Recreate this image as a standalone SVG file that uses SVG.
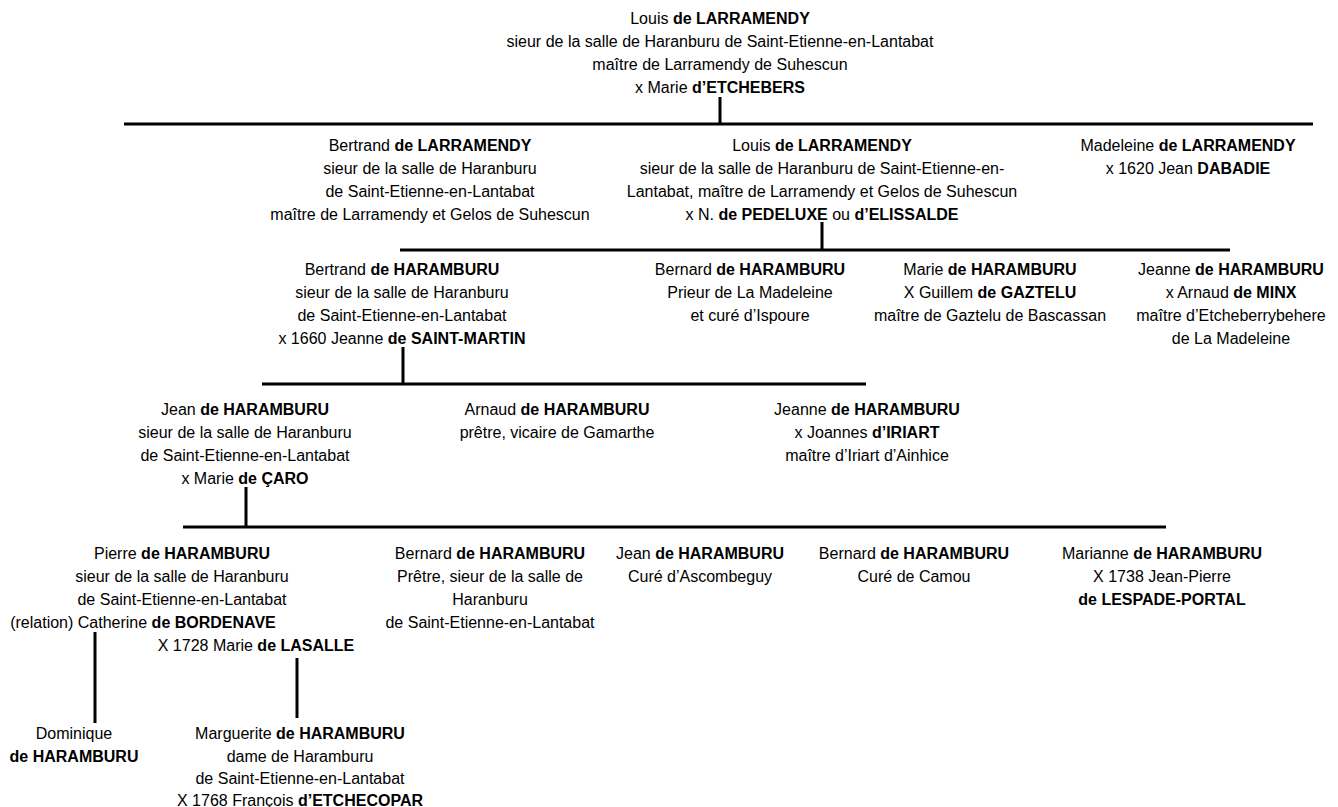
<svg xmlns="http://www.w3.org/2000/svg" width="1338" height="807" viewBox="0 0 1338 807">
<style>
text{font-family:"Liberation Sans",Arial,sans-serif;font-size:16px;fill:#000;text-anchor:middle}
.b{font-weight:bold}
.ln{stroke:#000;stroke-width:3;fill:none}
</style>
<rect width="1338" height="807" fill="#fff"/>
<g id="connectors">
<path class="ln" d="M720 97V124M124 124H1313"/>
<path class="ln" d="M822 222V250M400 250H1230"/>
<path class="ln" d="M403 347V384M262 384H866"/>
<path class="ln" d="M246 487V527M183 527H1166"/>
<path class="ln" d="M95 632V723"/>
<path class="ln" d="M297 658V718"/>
</g>
<g id="n-louis1">
<text x="720" y="23.5">Louis <tspan class="b">de LARRAMENDY</tspan></text>
<text x="720" y="46.8">sieur de la salle de Haranburu de Saint-Etienne-en-Lantabat</text>
<text x="720" y="70.1">maître de Larramendy de Suhescun</text>
<text x="720" y="93.4">x Marie <tspan class="b">d’ETCHEBERS</tspan></text>
</g>
<g id="n-bertrand1">
<text x="430" y="150.5">Bertrand <tspan class="b">de LARRAMENDY</tspan></text>
<text x="430" y="173.5">sieur de la salle de Haranburu</text>
<text x="430" y="196.5">de Saint-Etienne-en-Lantabat</text>
<text x="430" y="219.5">maître de Larramendy et Gelos de Suhescun</text>
</g>
<g id="n-louis2">
<text x="822" y="150.5">Louis <tspan class="b">de LARRAMENDY</tspan></text>
<text x="822" y="173.5">sieur de la salle de Haranburu de Saint-Etienne-en-</text>
<text x="822" y="196.5">Lantabat, maître de Larramendy et Gelos de Suhescun</text>
<text x="822" y="219.5">x N. <tspan class="b">de PEDELUXE</tspan> ou <tspan class="b">d’ELISSALDE</tspan></text>
</g>
<g id="n-madeleine">
<text x="1188" y="150.5">Madeleine <tspan class="b">de LARRAMENDY</tspan></text>
<text x="1188" y="173.5">x 1620 Jean <tspan class="b">DABADIE</tspan></text>
</g>
<g id="n-bertrand2">
<text x="402" y="274.5">Bertrand <tspan class="b">de HARAMBURU</tspan></text>
<text x="402" y="297.5">sieur de la salle de Haranburu</text>
<text x="402" y="320.5">de Saint-Etienne-en-Lantabat</text>
<text x="402" y="343.5">x 1660 Jeanne <tspan class="b">de SAINT-MARTIN</tspan></text>
</g>
<g id="n-bernard1">
<text x="750" y="274.5">Bernard <tspan class="b">de HARAMBURU</tspan></text>
<text x="750" y="297.5">Prieur de La Madeleine</text>
<text x="750" y="320.5">et curé d’Ispoure</text>
</g>
<g id="n-marie1">
<text x="990" y="274.5">Marie <tspan class="b">de HARAMBURU</tspan></text>
<text x="990" y="297.5">X Guillem <tspan class="b">de GAZTELU</tspan></text>
<text x="990" y="320.5">maître de Gaztelu de Bascassan</text>
</g>
<g id="n-jeanne1">
<text x="1231" y="274.5">Jeanne <tspan class="b">de HARAMBURU</tspan></text>
<text x="1231" y="297.5">x Arnaud <tspan class="b">de MINX</tspan></text>
<text x="1231" y="320.5">maître d’Etcheberrybehere</text>
<text x="1231" y="343.5">de La Madeleine</text>
</g>
<g id="n-jean1">
<text x="245" y="414.5">Jean <tspan class="b">de HARAMBURU</tspan></text>
<text x="245" y="437.5">sieur de la salle de Haranburu</text>
<text x="245" y="460.5">de Saint-Etienne-en-Lantabat</text>
<text x="245" y="483.5">x Marie <tspan class="b">de ÇARO</tspan></text>
</g>
<g id="n-arnaud">
<text x="557" y="414.5">Arnaud <tspan class="b">de HARAMBURU</tspan></text>
<text x="557" y="437.5">prêtre, vicaire de Gamarthe</text>
</g>
<g id="n-jeanne2">
<text x="867" y="414.5">Jeanne <tspan class="b">de HARAMBURU</tspan></text>
<text x="867" y="437.5">x Joannes <tspan class="b">d’IRIART</tspan></text>
<text x="867" y="460.5">maître d’Iriart d’Ainhice</text>
</g>
<g id="n-pierre">
<text x="182" y="558.5">Pierre <tspan class="b">de HARAMBURU</tspan></text>
<text x="182" y="581.5">sieur de la salle de Haranburu</text>
<text x="182" y="604.5">de Saint-Etienne-en-Lantabat</text>
<text x="143" y="627.5">(relation) Catherine <tspan class="b">de BORDENAVE</tspan></text>
<text x="256" y="650.5">X 1728 Marie <tspan class="b">de LASALLE</tspan></text>
</g>
<g id="n-bernard2">
<text x="490" y="558.5">Bernard <tspan class="b">de HARAMBURU</tspan></text>
<text x="490" y="581.5">Prêtre, sieur de la salle de</text>
<text x="490" y="604.5">Haranburu</text>
<text x="490" y="627.5">de Saint-Etienne-en-Lantabat</text>
</g>
<g id="n-jean2">
<text x="700" y="558.5">Jean <tspan class="b">de HARAMBURU</tspan></text>
<text x="700" y="581.5">Curé d’Ascombeguy</text>
</g>
<g id="n-bernard3">
<text x="914" y="558.5">Bernard <tspan class="b">de HARAMBURU</tspan></text>
<text x="914" y="581.5">Curé de Camou</text>
</g>
<g id="n-marianne">
<text x="1162" y="558.5">Marianne <tspan class="b">de HARAMBURU</tspan></text>
<text x="1162" y="581.5">X 1738 Jean-Pierre</text>
<text x="1162" y="604.5" class="b">de LESPADE-PORTAL</text>
</g>
<g id="n-dominique">
<text x="74" y="738.5">Dominique</text>
<text x="74" y="761.5" class="b">de HARAMBURU</text>
</g>
<g id="n-marguerite">
<text x="300" y="738.5">Marguerite <tspan class="b">de HARAMBURU</tspan></text>
<text x="300" y="761.5">dame de Haramburu</text>
<text x="300" y="784">de Saint-Etienne-en-Lantabat</text>
<text x="300" y="806">X 1768 François <tspan class="b">d’ETCHECOPAR</tspan></text>
</g>
</svg>
